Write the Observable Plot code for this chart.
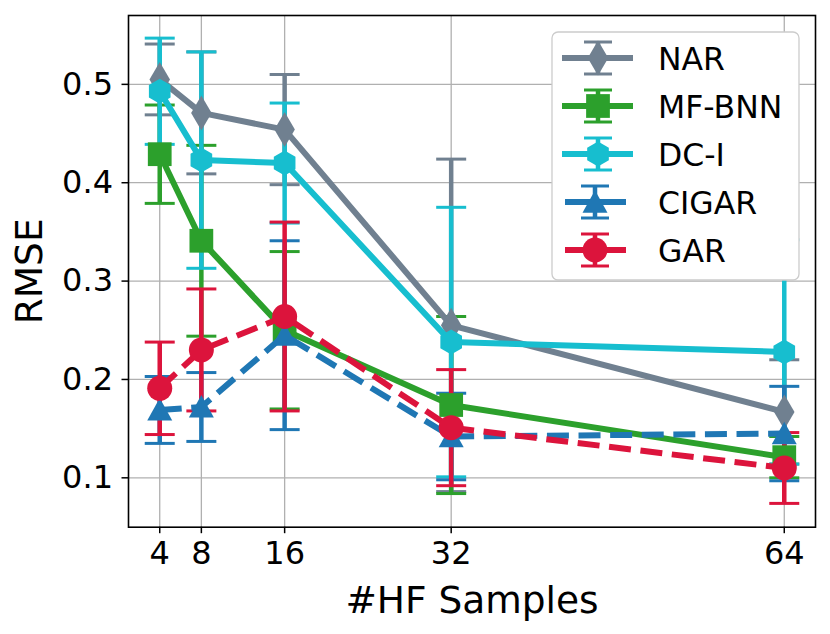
<!DOCTYPE html>
<html><head><meta charset="utf-8">
<script src="https://cdn.jsdelivr.net/npm/d3@7"></script>
<script src="https://cdn.jsdelivr.net/npm/@observablehq/plot@0.6"></script>
<style>
html,body{margin:0;padding:0;background:#fff;}
#wrap{position:relative;width:830px;height:634px;}
#legend{position:absolute;left:0;top:0;pointer-events:none;}
</style></head><body><div id="wrap"></div>
<script>
// ---- data ----
const hfSamples = [4, 8, 16, 32, 64];
const seriesNames = ["NAR", "MF-BNN", "DC-I", "CIGAR", "GAR"];
const seriesColors = ["#708090", "#2ca02c", "#17becf", "#1f77b4", "#dc143c"];
const seriesDashed = [false, false, false, true, true];
const seriesMarkers = ["thinDiamond", "square", "hexagon", "triangle", "circle"];

const narMean   = [0.505, 0.471, 0.454, 0.255, 0.167];
const narErr    = [0.036, 0.062, 0.056, 0.169, 0.053];
const mfbnnMean = [0.429, 0.341, 0.250, 0.174, 0.121];
const mfbnnErr  = [0.050, 0.097, 0.080, 0.090, 0.021];
const dciMean   = [0.493, 0.423, 0.420, 0.238, 0.228];
const dciErr    = [0.054, 0.110, 0.061, 0.137, 0.114];
const cigarMean = [0.169, 0.172, 0.245, 0.142, 0.145];
const cigarErr  = [0.034, 0.035, 0.096, 0.044, 0.048];
const garMean   = [0.191, 0.230, 0.264, 0.151, 0.110];
const garErr    = [0.047, 0.062, 0.096, 0.059, 0.036];

const xTicks = [4, 8, 16, 32, 64];
const yTicks = [0.1, 0.2, 0.3, 0.4, 0.5];
const xLabel = "#HF Samples";
const yLabel = "RMSE";

const means = [narMean, mfbnnMean, dciMean, cigarMean, garMean];
const errs = [narErr, mfbnnErr, dciErr, cigarErr, garErr];

const rows = [];
seriesNames.forEach((name, i) => {
  hfSamples.forEach((x, j) => {
    rows.push({series: name, x, y: means[i][j], lo: means[i][j] - errs[i][j], hi: means[i][j] + errs[i][j]});
  });
});

// ---- custom symbols (matplotlib-like markers) ----
const symbols = {
  circle: {draw(c, s) { const r = Math.sqrt(s / Math.PI); c.moveTo(r, 0); c.arc(0, 0, r, 0, 2 * Math.PI); }},
  square: {draw(c, s) { const r = Math.sqrt(s / Math.PI) * 0.95; c.rect(-r, -r, 2 * r, 2 * r); }},
  triangle: {draw(c, s) { const r = Math.sqrt(s / Math.PI); c.moveTo(0, -0.95 * r); c.lineTo(r, 0.85 * r); c.lineTo(-r, 0.85 * r); c.closePath(); }},
  thinDiamond: {draw(c, s) { const r = Math.sqrt(s / Math.PI); c.moveTo(0, -1.4 * r); c.lineTo(0.82 * r, 0); c.lineTo(0, 1.4 * r); c.lineTo(-0.82 * r, 0); c.closePath(); }},
  hexagon: {draw(c, s) { const r = Math.sqrt(s / Math.PI);
    for (let k = 0; k < 6; k++) { const a = -Math.PI / 2 + k * Math.PI / 3; const px = r * Math.cos(a), py = r * Math.sin(a); if (k === 0) c.moveTo(px, py); else c.lineTo(px, py); }
    c.closePath(); }}
};
const capSymbol = {draw(c, s) { const r = Math.sqrt(s / Math.PI); c.moveTo(-r, 0); c.lineTo(r, 0); }};

const markerR = 12.5, capR = 15, lineW = 6, barW = 4.5, capW = 3;
const dash = "22,9.6";

const marks = [
  Plot.gridX(xTicks, {stroke: "#b0b0b0", strokeOpacity: 1, strokeWidth: 1.3}),
  Plot.gridY(yTicks, {stroke: "#b0b0b0", strokeOpacity: 1, strokeWidth: 1.3})
];
seriesNames.forEach((name, i) => {
  const d = rows.filter(r => r.series === name);
  const col = seriesColors[i];
  marks.push(Plot.ruleX(d, {x: "x", y1: "lo", y2: "hi", stroke: col, strokeWidth: barW}));
  marks.push(Plot.dot(d, {x: "x", y: "lo", symbol: capSymbol, r: capR, fill: "none", stroke: col, strokeWidth: capW}));
  marks.push(Plot.dot(d, {x: "x", y: "hi", symbol: capSymbol, r: capR, fill: "none", stroke: col, strokeWidth: capW}));
});
seriesNames.forEach((name, i) => {
  const d = rows.filter(r => r.series === name);
  const col = seriesColors[i];
  marks.push(Plot.line(d, {x: "x", y: "y", stroke: col, strokeWidth: lineW, strokeLinejoin: "round",
    strokeDasharray: seriesDashed[i] ? dash : null, strokeLinecap: "butt"}));
  marks.push(Plot.dot(d, {x: "x", y: "y", symbol: symbols[seriesMarkers[i]], r: markerR, fill: col, stroke: "none"}));
});
marks.push(
  Plot.axisX({ticks: xTicks, tickSize: 6.5, tickPadding: 8, strokeWidth: 1.5, fontSize: 32, tickFormat: d => String(d),
    label: xLabel, labelAnchor: "center", labelArrow: "none", labelOffset: 86}),
  Plot.axisY({ticks: yTicks, tickSize: 6.5, tickPadding: 9, strokeWidth: 1.5, fontSize: 32, tickFormat: d3.format(".1f"),
    label: yLabel, labelAnchor: "center", labelArrow: "none", labelOffset: 113}),
  Plot.frame({stroke: "black", strokeWidth: 1.6})
);

const chart = Plot.plot({
  width: 830, height: 634,
  marginLeft: 128, marginRight: 15, marginTop: 15, marginBottom: 107.3,
  x: {type: "linear", domain: [1, 67]},
  y: {type: "linear", domain: [0.0498, 0.570]},
  style: {fontFamily: "DejaVu Sans", color: "black", background: "white", overflow: "visible"},
  marks
});
document.getElementById("wrap").appendChild(chart);
d3.select(chart).selectAll('g[aria-label="x-axis label"], g[aria-label="y-axis label"]').attr("font-size", 37.5);

// ---- legend ----
const leg = d3.select("#wrap").append("svg").attr("id", "legend").attr("width", 830).attr("height", 634);
leg.append("rect").attr("x", 552).attr("y", 32).attr("width", 247).attr("height", 248).attr("rx", 6)
  .attr("fill", "white").attr("fill-opacity", 1).attr("stroke", "#cccccc").attr("stroke-width", 1.3);
seriesNames.forEach((name, i) => {
  const cy = 58 + i * 48, col = seriesColors[i];
  const g = leg.append("g").attr("transform", `translate(0,${cy})`);
  const mx = seriesDashed[i] ? 595 : 598;
  g.append("line").attr("x1", mx).attr("x2", mx).attr("y1", -16).attr("y2", 16).attr("stroke", col).attr("stroke-width", barW);
  [-16, 16].forEach(cyy => g.append("line").attr("x1", mx - 14).attr("x2", mx + 14).attr("y1", cyy).attr("y2", cyy).attr("stroke", col).attr("stroke-width", capW));
  g.append("line").attr("x1", seriesDashed[i] ? 565 : 562).attr("x2", seriesDashed[i] ? 626 : 633).attr("y1", 0).attr("y2", 0)
    .attr("stroke", col).attr("stroke-width", lineW);
  g.append("path").attr("d", d3.symbol(symbols[seriesMarkers[i]], Math.PI * markerR * markerR)()).attr("transform", `translate(${mx},0)`).attr("fill", col);
  g.append("text").attr("x", 658).attr("y", 11.5).attr("font-family", "DejaVu Sans").attr("font-size", 31.5).attr("fill", "black").text(name);
});
</script></body></html>
